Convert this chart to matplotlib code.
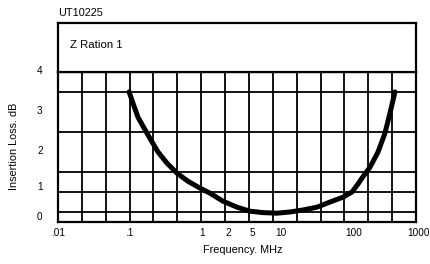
import numpy as np
import matplotlib
matplotlib.use("Agg")
import matplotlib.pyplot as plt
from matplotlib.transforms import ScaledTranslation

plt.rcParams['font.family'] = ['Liberation Sans', 'DejaVu Sans']

# curve: frequency (MHz) and insertion loss (dB)
freq = [0.099, 0.114, 0.135, 0.165, 0.194, 0.257, 0.37, 0.496, 0.72, 0.97,
        1.37, 1.91, 3.5, 5.2, 7.9, 11.7, 17.2, 27.8, 45.5, 70, 97,
        132, 157, 174, 222, 323, 410, 473, 559]
loss = [3.49, 3.21, 2.86, 2.54, 2.24, 1.99, 1.71, 1.46, 1.26, 1.09,
        0.96, 0.76, 0.61, 0.51, 0.475, 0.46, 0.49, 0.54, 0.61, 0.74, 0.86,
        0.99, 1.19, 1.34, 1.61, 1.99, 2.46, 2.96, 3.49]

x_ticks = [0.01, 0.1, 1, 2, 5, 10, 100, 1000]
x_labels = ['.01', '.1', '1', '2', '5', '10', '100', '1000']
x_label_shift = [0, 0, 1, 3, 3, 8, 9, 3]   # px, labels sit a bit right on the original
x_grid = [0.02, 0.05, 0.2, 0.5, 20, 50, 200, 500]

y_ticks = [0.35, 1.1, 2, 3, 4]
y_labels = ['0', '1', '2', '3', '4']
y_grid = np.arange(0.5, 4.01, 0.5)


def fwd(f):
    # evenly spaced 1-2-5 grid per decade, like the printed chart
    f = np.asarray(f, float)
    l = np.log10(np.clip(f, 1e-12, None))
    d = np.floor(l + 1e-9)
    m = 10 ** (l - d)
    return d + np.interp(m, [1, 2, 5, 10], [0, 1/3, 2/3, 1])


def inv(x):
    x = np.asarray(x, float)
    d = np.floor(x)
    return 10 ** d * np.interp(x - d, [0, 1/3, 2/3, 1], [1, 2, 5, 10])


W, H = 431, 264
fig = plt.figure(figsize=(W / 100, H / 100), dpi=100)

left, right = 58 / W, 416 / W
ax = fig.add_axes([left, (H - 222) / H, right - left, (222 - 71.5) / H])
head = fig.add_axes([left, (H - 71.5) / H, right - left, (71.5 - 23) / H])

ax.plot(freq, loss, color='black', lw=3.6, solid_capstyle='round',
        solid_joinstyle='round')

ax.set_xscale('function', functions=(fwd, inv))
ax.set_xlim(0.01, 1000)
ax.set_ylim(0.24, 4)

ax.set_xticks(x_ticks)
ax.set_xticklabels(x_labels)
ax.set_xticks(x_grid, minor=True)
ax.set_yticks(y_ticks)
ax.set_yticklabels(y_labels)
ax.set_yticks(y_grid, minor=True)

ax.grid(True, axis='x', which='both', color='black', lw=1.3)
ax.grid(True, axis='y', which='minor', color='black', lw=1.3)
ax.grid(False, axis='y', which='major')
ax.tick_params(which='both', length=0, labelsize=7.2)
ax.tick_params(axis='x', pad=4)
ax.tick_params(axis='y', pad=11)

for lab, dx in zip(ax.get_xticklabels(), x_label_shift):
    lab.set_transform(lab.get_transform() + ScaledTranslation(dx / 100, 0, fig.dpi_scale_trans))
for lab in ax.get_yticklabels():
    lab.set_transform(lab.get_transform() + ScaledTranslation(0, 2 / 100, fig.dpi_scale_trans))

for s in ax.spines.values():
    s.set_linewidth(1.6)
for s in head.spines.values():
    s.set_linewidth(1.6)

ax.set_xlabel('Frequency. MHz', fontsize=7.8)
ax.xaxis.set_label_coords(0.515, -0.15)
ax.set_ylabel('Insertion Loss. dB', fontsize=7.8)
ax.yaxis.set_label_coords(-0.11, 0.5)

head.set_xticks([])
head.set_yticks([])
head.text(0.034, 0.55, 'Z Ration 1', fontsize=8.2, ha='left', va='center',
          transform=head.transAxes)
head.text(0.0, 1.2, 'UT10225', fontsize=7.8, ha='left', va='center',
          transform=head.transAxes)

fig.savefig('out.png', dpi=100)
